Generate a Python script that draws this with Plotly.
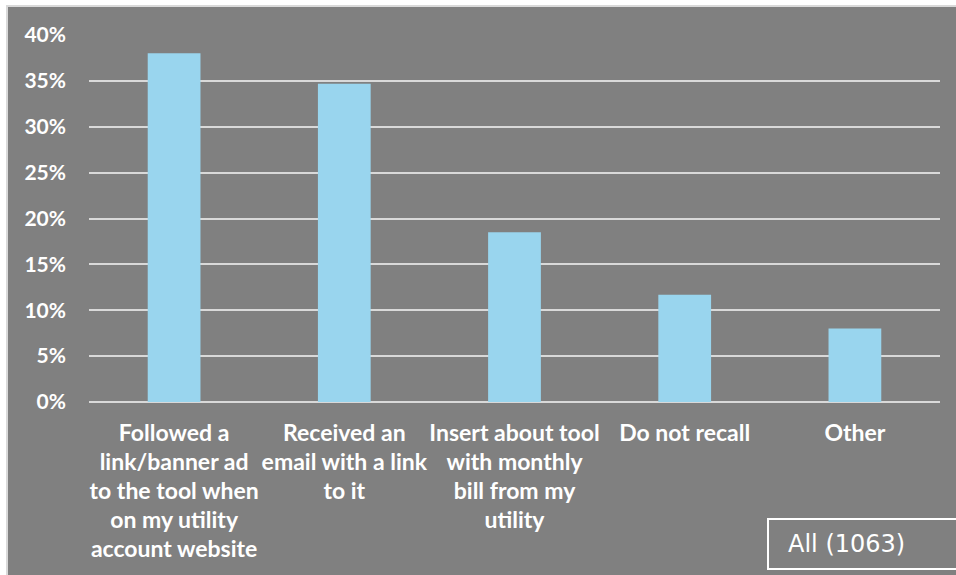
import plotly.graph_objects as go

categories = [
    "Followed a<br>link/banner ad<br>to the tool when<br>on my utility<br>account website",
    "Received an<br>email with a link<br>to it",
    "Insert about tool<br>with monthly<br>bill from my<br>utility",
    "Do not recall",
    "Other",
]
values = [0.38, 0.347, 0.185, 0.117, 0.08]
tick_vals = [0, 0.05, 0.10, 0.15, 0.20, 0.25, 0.30, 0.35, 0.40]
tick_text = ["0%", "5%", "10%", "15%", "20%", "25%", "30%", "35%", "40%"]
sample_label = "All (1063)"

W, H = 956, 575
# plot area in page pixels: x 89..940, y 35..402
L, T = 89, 35
R = W - 940
B = H - 402
pw = W - L - R
ph = H - T - B

def px(x):
    return (x - L) / pw

def py(y):
    return (H - B - y) / ph

GRAY = "#808080"
WHITE = "#ffffff"
GRID = "#d9d9d9"
BAR = "#99d5ee"
FONT = "Lato"

def label(c):
    parts = c.split("<br>")
    return "<br>".join("<b><span style='font-size:23px'>" + p + "</span></b>" for p in parts)

fig = go.Figure(
    go.Bar(
        x=list(range(len(categories))),
        y=values,
        marker=dict(color=BAR, line=dict(width=0)),
        width=0.31,
    )
)

fig.update_layout(
    width=W,
    height=H,
    margin=dict(l=L, r=R, t=T, b=B, autoexpand=False),
    paper_bgcolor=WHITE,
    plot_bgcolor=GRAY,
    showlegend=False,
    xaxis=dict(
        tickmode="array",
        tickvals=list(range(len(categories))),
        ticktext=[label(c) for c in categories],
        tickfont=dict(family=FONT, size=22.3, color=WHITE),
        tickangle=0,
        range=[-0.5, len(categories) - 0.5],
        showgrid=False,
        zeroline=False,
        showline=False,
        ticks="",
        ticklabelstandoff=16,
    ),
    yaxis=dict(
        range=[0, 0.4],
        tickmode="array",
        tickvals=tick_vals,
        ticktext=["<b>" + t + "</b>" for t in tick_text],
        tickfont=dict(family=FONT, size=21, color=WHITE),
        showgrid=True,
        gridcolor=GRID,
        gridwidth=2,
        zeroline=True,
        zerolinecolor=GRID,
        zerolinewidth=2,
        showline=False,
        ticks="",
        ticklabelstandoff=22,
    ),
    shapes=[
        dict(
            type="rect", xref="paper", yref="paper", layer="below",
            x0=px(7), x1=px(970), y0=py(590), y1=py(6),
            fillcolor=GRAY, line=dict(color=GRID, width=2),
        ),
        dict(
            type="rect", xref="paper", yref="paper", layer="above",
            x0=px(768), x1=px(975), y0=py(569), y1=py(519),
            fillcolor="rgba(0,0,0,0)", line=dict(color=WHITE, width=2),
        ),
    ],
    annotations=[
        dict(
            text=sample_label, xref="paper", yref="paper",
            x=px(786), y=py(544), xanchor="left", yanchor="middle",
            showarrow=False,
            font=dict(family="DejaVu Sans", size=24, color=WHITE),
        )
    ],
)

fig.write_html(
    "out.html",
    config={"displayModeBar": False},
    post_script="document.body.style.margin='0';document.body.style.overflow='hidden';",
)
